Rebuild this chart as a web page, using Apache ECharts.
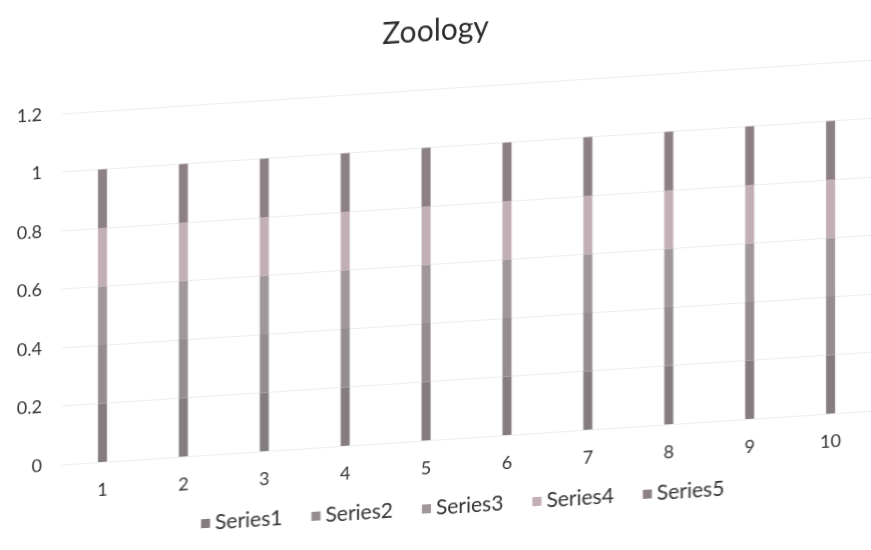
<!DOCTYPE html>
<html>
<head>
<meta charset="utf-8">
<title>Zoology</title>
<script src="https://cdn.jsdelivr.net/npm/echarts@6/dist/echarts.min.js"></script>
<style>
  html, body { margin: 0; padding: 0; background: #ffffff; overflow: hidden; }
  #chart {
    width: 871px; height: 550px;
    transform-origin: 40px 0;
    transform: skewY(-3.8deg);
  }
</style>
</head>
<body>
<div id="chart"></div>
<script>
// Category labels along the x axis
const categories = ['1', '2', '3', '4', '5', '6', '7', '8', '9', '10'];

// Stacked series values (each column adds up to about 1.0)
const series1 = [0.2, 0.2, 0.2, 0.2, 0.2, 0.2, 0.2, 0.2, 0.2, 0.2];
const series2 = [0.2, 0.2, 0.2, 0.2, 0.2, 0.2, 0.2, 0.2, 0.2, 0.2];
const series3 = [0.2, 0.2, 0.2, 0.2, 0.2, 0.2, 0.2, 0.2, 0.2, 0.2];
const series4 = [0.2, 0.2, 0.2, 0.2, 0.2, 0.2, 0.2, 0.2, 0.2, 0.2];
const series5 = [0.2, 0.2, 0.2, 0.2, 0.2, 0.2, 0.2, 0.2, 0.2, 0.2];

const seriesNames = ['Series1', 'Series2', 'Series3', 'Series4', 'Series5'];
const seriesData = [series1, series2, series3, series4, series5];
const seriesColors = ['#857c80', '#958c90', '#a0979a', '#c2aeb5', '#8d8084'];

// Value axis ticks
const yMin = 0, yMax = 1.2, yStep = 0.2;

const font = 'Lato, "Open Sans", sans-serif';
const chart = echarts.init(document.getElementById('chart'), null, { renderer: 'canvas' });

chart.setOption({
  backgroundColor: '#ffffff',
  animation: false,
  title: {
    text: 'Zoology',
    left: 'center',
    top: 37,
    textStyle: { fontFamily: font, fontSize: 30, fontWeight: 'normal', color: '#2e2e2e' }
  },
  legend: {
    data: seriesNames,
    bottom: 0,
    left: 196,
    itemWidth: 9,
    itemHeight: 9,
    itemGap: 29,
    icon: 'rect',
    textStyle: { fontFamily: font, fontSize: 21, color: '#333333' }
  },
  grid: { left: 62, right: -6, top: 115, bottom: 84, containLabel: false },
  xAxis: {
    type: 'category',
    data: categories,
    axisLine: { show: false },
    axisTick: { show: false },
    axisLabel: { fontFamily: font, fontSize: 18, color: '#333333', margin: 19 }
  },
  yAxis: {
    type: 'value',
    min: yMin,
    max: yMax,
    interval: yStep,
    axisLine: { show: false },
    axisTick: { show: false },
    axisLabel: {
      fontFamily: font, fontSize: 18, color: '#333333', margin: 20,
      formatter: v => String(Math.round(v * 10) / 10)
    },
    splitLine: { lineStyle: { color: '#ededed', width: 1 } }
  },
  series: seriesNames.map((name, i) => ({
    name: name,
    type: 'bar',
    stack: 'total',
    barWidth: 9,
    data: seriesData[i],
    itemStyle: { color: seriesColors[i] }
  }))
});
</script>
</body>
</html>
